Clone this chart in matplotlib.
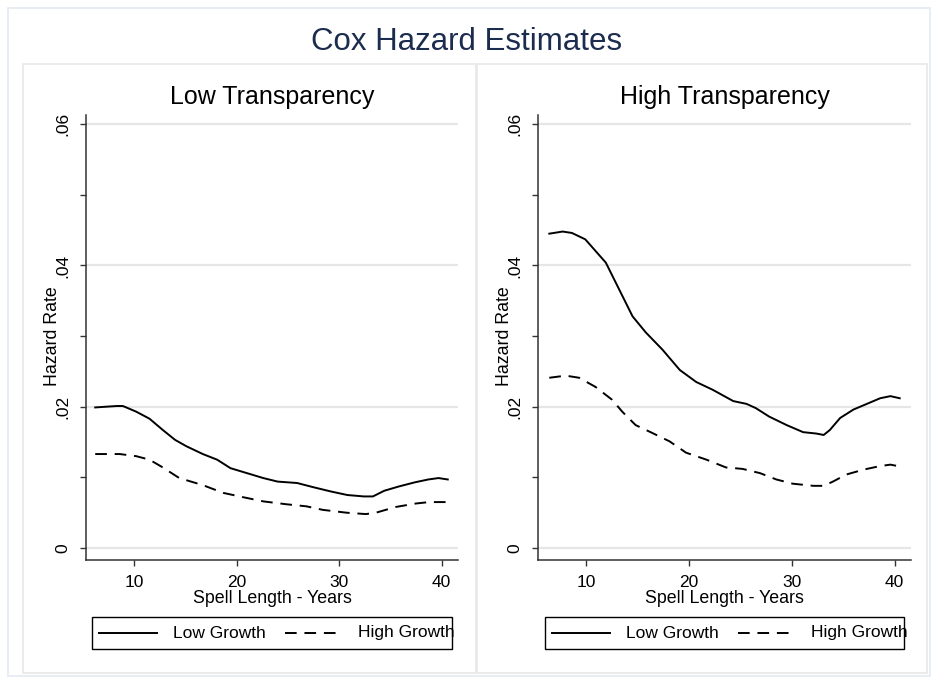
import matplotlib
matplotlib.use('Agg')
import matplotlib.pyplot as plt
from matplotlib.patches import Rectangle
from matplotlib.lines import Line2D

plt.rcParams['font.family'] = ['Liberation Sans', 'DejaVu Sans']

# --- data (spell length in years, hazard rate) ---
low_t_x_solid = [6.2, 8.3, 8.9, 10.2, 11.5, 12.8, 14.0, 15.1, 16.7, 18.1, 19.4, 21.0, 22.6, 24.0,
                 25.9, 27.5, 29.2, 30.8, 32.4, 33.3, 34.4, 35.8, 37.4, 38.7, 39.7, 40.6]
low_t_y_solid = [0.0199, 0.0201, 0.0201, 0.0193, 0.0183, 0.0167, 0.0153, 0.0144, 0.0133, 0.0125,
                 0.0113, 0.0106, 0.0099, 0.0094, 0.0092, 0.0086, 0.0080, 0.0075, 0.0073, 0.0073,
                 0.0081, 0.0087, 0.0093, 0.0097, 0.0099, 0.0097]
low_t_x_dash = [6.2, 8.6, 10.2, 11.5, 12.8, 14.4, 16.7, 18.7, 20.6, 22.6, 24.8, 26.8, 28.4,
                30.7, 32.6, 33.6, 35.5, 37.5, 38.8, 40.5]
low_t_y_dash = [0.0133, 0.0133, 0.0130, 0.0125, 0.0114, 0.0099, 0.0089, 0.0078, 0.0072, 0.0066,
                0.0062, 0.0059, 0.0054, 0.0050, 0.0048, 0.0050, 0.0058, 0.0063, 0.0065, 0.0065]

high_t_x_solid = [6.4, 7.7, 8.6, 9.9, 11.9, 13.2, 14.5, 15.8, 17.4, 19.1, 20.7, 22.3, 24.3,
                  25.6, 26.5, 27.8, 29.5, 31.1, 32.4, 33.1, 33.7, 34.7, 36.0, 37.3, 38.6, 39.6, 40.5]
high_t_y_solid = [0.0445, 0.0448, 0.0446, 0.0437, 0.0404, 0.0366, 0.0328, 0.0305, 0.0281, 0.0252,
                  0.0235, 0.0224, 0.0208, 0.0204, 0.0198, 0.0186, 0.0174, 0.0164, 0.0162, 0.0160,
                  0.0167, 0.0184, 0.0196, 0.0204, 0.0212, 0.0215, 0.0212]
high_t_x_dash = [6.4, 8.0, 9.3, 10.9, 12.5, 13.5, 14.8, 16.4, 18.1, 19.7, 21.7, 23.6, 25.2,
                 26.9, 28.5, 30.1, 32.1, 33.1, 34.0, 35.3, 37.0, 38.6, 39.6, 40.3]
high_t_y_dash = [0.0241, 0.0244, 0.0241, 0.0228, 0.0210, 0.0193, 0.0174, 0.0163, 0.0151, 0.0135,
                 0.0125, 0.0114, 0.0112, 0.0106, 0.0097, 0.0091, 0.0088, 0.0088, 0.0094, 0.0104,
                 0.0111, 0.0116, 0.0118, 0.0116]

panels = [
    ("Low Transparency", low_t_x_solid, low_t_y_solid, low_t_x_dash, low_t_y_dash),
    ("High Transparency", high_t_x_solid, high_t_y_solid, high_t_x_dash, high_t_y_dash),
]
x_ticks = [10, 20, 30, 40]
y_ticks = [0, 0.02, 0.04, 0.06]
y_tick_labels = ["0", ".02", ".04", ".06"]
legend_labels = ["Low Growth", "High Growth"]

W, H = 933, 684
fig = plt.figure(figsize=(W / 100, H / 100), dpi=100)

def fx(px): return px / W
def fy(py): return 1 - py / H

# outer frame and the two panel frames
fig.add_artist(Rectangle((fx(8), fy(676)), fx(922), 668 / H, transform=fig.transFigure,
                         fill=False, edgecolor='#e3eaf0', lw=1.2))
for x0, x1 in [(23, 476), (477, 927)]:
    fig.add_artist(Rectangle((fx(x0), fy(673)), fx(x1 - x0), 609 / H, transform=fig.transFigure,
                             fill=False, edgecolor='#e8e8e8', lw=1.2))

fig.text(0.5, fy(42), "Cox Hazard Estimates", ha='center', va='center',
         fontsize=22.5, color='#1c2c4f')

dash = (0, (6, 4))
ax_left = {0: 86, 1: 538}
ax_right = {0: 458, 1: 911}
legend_box = {0: (92, 452), 1: (545, 904)}

for i, (title, xs, ys, xd, yd) in enumerate(panels):
    ax = fig.add_axes([fx(ax_left[i]), fy(560), fx(ax_right[i] - ax_left[i]), (560 - 115) / H])
    ax.plot(xs, ys, color='black', lw=1.4)
    ax.plot(xd, yd, color='black', lw=1.4, linestyle=dash)
    ax.set_xlim(5.3, 41.6)
    ax.set_ylim(-0.0017, 0.0613)
    ax.set_yticks(y_ticks)
    ax.set_yticklabels(y_tick_labels, rotation=90, va='center')
    ax.set_yticks([0.01, 0.03, 0.05], minor=True)
    ax.set_xticks(x_ticks)
    ax.tick_params(axis='both', labelsize=12.5, length=4.5, width=1, color='#333333', pad=6.5)
    ax.tick_params(axis='y', which='minor', length=4.5, width=1, color='#333333')
    ax.grid(axis='y', color='#e6e6e6', lw=1.6)
    ax.set_axisbelow(True)
    for s in ['top', 'right']:
        ax.spines[s].set_visible(False)
    for s in ['left', 'bottom']:
        ax.spines[s].set_color('#333333')
        ax.spines[s].set_linewidth(1.1)
    ax.set_xlabel("Spell Length - Years", fontsize=12.8, labelpad=0)
    ax.set_ylabel("Hazard Rate", fontsize=12.8, va='center')
    ax.yaxis.set_label_coords(-0.091, 0.503)
    ax.set_title(title, fontsize=18, pad=8)

    # legend box, drawn like the Stata one
    lx0, lx1 = legend_box[i]
    fig.add_artist(Rectangle((fx(lx0), fy(649)), fx(lx1 - lx0), 32 / H, transform=fig.transFigure,
                             fill=False, edgecolor='black', lw=1))
    ly = fy(633)
    fig.add_artist(Line2D([fx(lx0 + 7), fx(lx0 + 65)], [ly, ly], color='black', lw=1.4))
    fig.text(fx(lx0 + 81), ly, legend_labels[0], fontsize=12.5, va='center')
    fig.add_artist(Line2D([fx(lx0 + 193), fx(lx0 + 250)], [ly, ly], color='black', lw=1.4,
                          linestyle=dash))
    fig.text(fx(lx0 + 266), ly, legend_labels[1], fontsize=12.5, va='center')

plt.savefig("out.png", dpi=100)
